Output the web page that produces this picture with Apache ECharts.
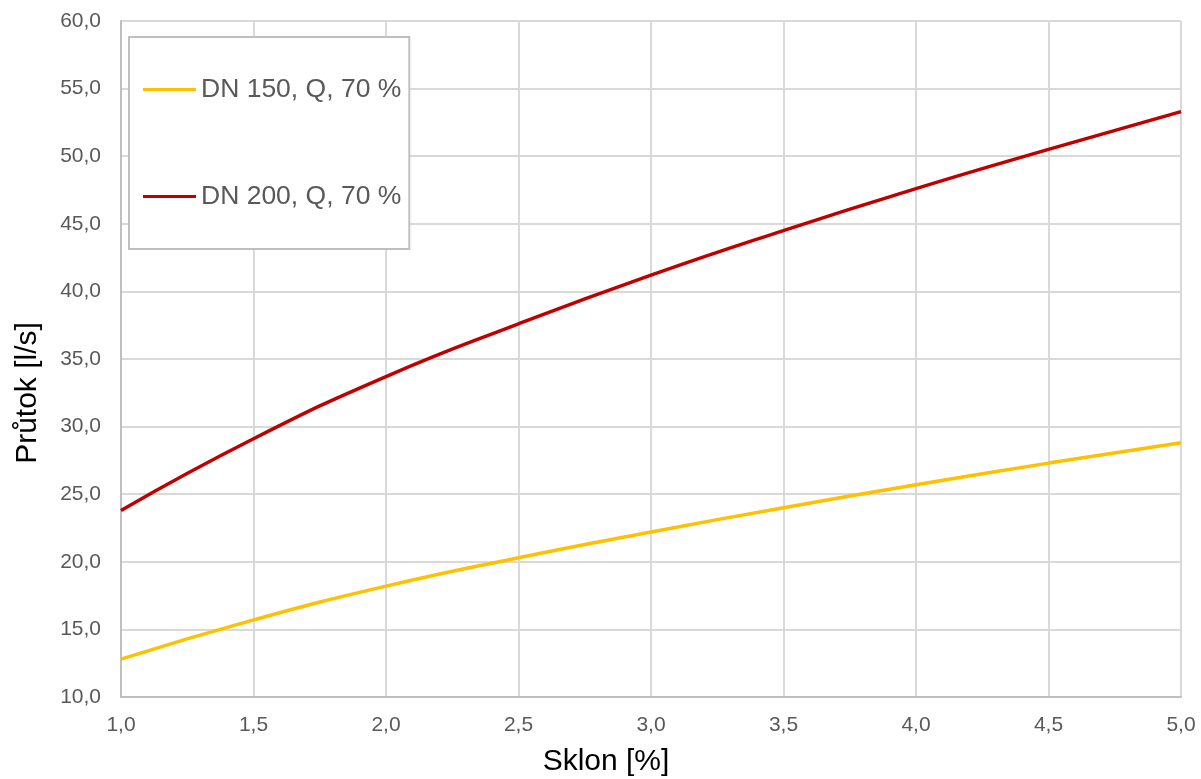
<!DOCTYPE html>
<html>
<head>
<meta charset="utf-8">
<title>Průtok vs. sklon</title>
<script src="https://cdn.jsdelivr.net/npm/echarts@6/dist/echarts.min.js"></script>
<style>
  html, body { margin: 0; padding: 0; background: #fff; }
  #chart { width: 1201px; height: 779px; }
</style>
</head>
<body>
<div id="chart"></div>
<script>
// Slope of the pipe [%]
const slopes = [1.0, 1.5, 2.0, 2.5, 3.0, 3.5, 4.0, 4.5, 5.0];
// Flow rate [l/s] at 70 % filling
const dn150 = [12.8, 15.7, 18.2, 20.3, 22.2, 24.0, 25.7, 27.3, 28.8];
const dn200 = [23.8, 29.1, 33.7, 37.6, 41.2, 44.5, 47.6, 50.5, 53.3];
const seriesNames = ['DN 150, Q, 70 %', 'DN 200, Q, 70 %'];
const xTitle = 'Sklon [%]';
const yTitle = 'Průtok [l/s]';

const FONT = '"Liberation Sans", Arial, sans-serif';
const comma = (v) => v.toFixed(1).replace('.', ',');

const chart = echarts.init(document.getElementById('chart'), null, { renderer: 'canvas' });

chart.setOption({
  animation: false,
  backgroundColor: '#ffffff',
  grid: { left: 121, right: 20, top: 21, bottom: 82, containLabel: false },
  xAxis: {
    type: 'value',
    min: 1, max: 5, interval: 0.5,
    axisLine: { show: true, lineStyle: { color: '#bfbfbf', width: 2 } },
    axisTick: { show: false },
    axisLabel: { formatter: comma, color: '#595959', fontFamily: FONT, fontSize: 21, margin: 18 },
    splitLine: { show: true, lineStyle: { color: '#d9d9d9', width: 2 } }
  },
  yAxis: {
    type: 'value',
    min: 10, max: 60, interval: 5,
    axisLine: { show: true, lineStyle: { color: '#bfbfbf', width: 2 } },
    axisTick: { show: false },
    axisLabel: { formatter: comma, color: '#595959', fontFamily: FONT, fontSize: 21, margin: 20 },
    splitLine: { show: true, lineStyle: { color: '#d9d9d9', width: 2 } }
  },
  legend: {
    orient: 'vertical',
    left: 129, top: 37,
    padding: [39, 8, 39, 14],
    itemGap: 80,
    itemWidth: 53, itemHeight: 3,
    icon: 'rect',
    borderColor: '#bfbfbf', borderWidth: 2,
    backgroundColor: '#ffffff',
    textStyle: { color: '#595959', fontFamily: FONT, fontSize: 26.5, lineHeight: 26 },
    data: seriesNames
  },
  graphic: [
    {
      type: 'text', x: 606, y: 762,
      style: { text: xTitle, font: '30px ' + FONT, fill: '#000000', align: 'center', verticalAlign: 'middle' }
    },
    {
      type: 'text', x: 28, y: 393, rotation: Math.PI / 2,
      style: { text: yTitle, font: '30px ' + FONT, fill: '#000000', align: 'center', verticalAlign: 'middle' }
    }
  ],
  series: [
    {
      name: seriesNames[0], type: 'line', smooth: 0.5,
      symbol: 'none', color: '#FFC000',
      lineStyle: { color: '#FFC000', width: 3.5 },
      data: slopes.map((s, i) => [s, dn150[i]])
    },
    {
      name: seriesNames[1], type: 'line', smooth: 0.5,
      symbol: 'none', color: '#C00000',
      lineStyle: { color: '#C00000', width: 3.5 },
      data: slopes.map((s, i) => [s, dn200[i]])
    }
  ]
});
</script>
</body>
</html>
